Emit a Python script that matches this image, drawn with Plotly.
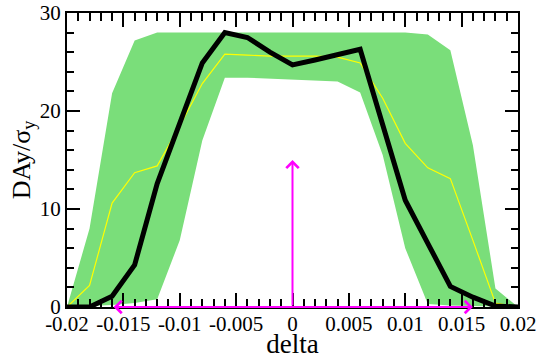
import plotly.graph_objects as go

# ---- data ----
delta = [-0.02, -0.018, -0.016, -0.014, -0.012, -0.010, -0.008, -0.006, -0.004, -0.002,
         0.0, 0.002, 0.004, 0.006, 0.008, 0.010, 0.012, 0.014, 0.016, 0.018, 0.02]
black_vals = [0, 0, 1.1, 4.3, 12.6, 18.7, 24.9, 28.0, 27.5, 26.0,
              24.7, 25.2, 25.8, 26.3, 18.6, 10.9, 6.5, 2.1, 1.0, 0.1, 0]
yellow_vals = [0, 2.2, 10.6, 13.7, 14.4, 18.5, 22.8, 25.8, 25.7, 25.6,
               25.6, 25.6, 25.5, 24.9, 21.3, 16.7, 14.2, 13.1, 6.8, 0.4, 0]
band_upper = [0, 8.0, 21.8, 27.2, 28.0, 28.0, 28.0, 28.0, 28.0, 28.0,
              28.0, 28.0, 28.0, 28.0, 28.0, 28.0, 27.8, 26.2, 16.5, 1.9, 0]
band_lower = [0, 0.1, 0.2, 0.4, 0.8, 6.8, 17.0, 23.4, 23.4, 23.3,
              23.2, 23.1, 23.0, 21.9, 15.5, 6.0, 0.3, 0.15, 0.1, 0.05, 0]

# arrows
vert_arrow_x = 0.0
vert_arrow_y = [0, 15.0]
horiz_arrow_x = [-0.016, 0.016]
horiz_arrow_y = 0.0

x_tick_vals = [-0.02, -0.015, -0.01, -0.005, 0, 0.005, 0.01, 0.015, 0.02]
x_tick_text = ["-0.02", "-0.015", "-0.01", "-0.005", "0", "0.005", "0.01", "0.015", "0.02"]
y_tick_vals = [0, 10, 20, 30]
y_tick_text = ["0", "10", "20", "30"]

SERIF = "Liberation Serif"

fig = go.Figure()

# green band as closed polygon
fig.add_trace(go.Scatter(
    x=delta + delta[::-1],
    y=band_upper + band_lower[::-1],
    fill="toself", fillcolor="#7ade7a",
    line=dict(width=0, color="#7ade7a"),
    mode="lines", hoverinfo="skip", showlegend=False,
))
fig.add_trace(go.Scatter(
    x=delta, y=yellow_vals, mode="lines",
    line=dict(color="#ffff00", width=1.2), showlegend=False,
))
fig.add_trace(go.Scatter(
    x=delta, y=black_vals, mode="lines",
    line=dict(color="black", width=5), showlegend=False,
))

# magenta arrows
fig.add_annotation(
    x=vert_arrow_x, y=vert_arrow_y[1], ax=vert_arrow_x, ay=vert_arrow_y[0],
    xref="x", yref="y", axref="x", ayref="y",
    showarrow=True, arrowhead=4, arrowsize=1.2, arrowwidth=2, arrowcolor="#ff00ff", text="",
)
fig.add_annotation(
    x=horiz_arrow_x[1], y=horiz_arrow_y, ax=horiz_arrow_x[0], ay=horiz_arrow_y,
    xref="x", yref="y", axref="x", ayref="y",
    showarrow=True, arrowhead=4, startarrowhead=4, arrowside="end+start",
    arrowsize=1.2, startarrowsize=1.2, arrowwidth=2, arrowcolor="#ff00ff", text="",
)

fig.update_xaxes(
    range=[-0.02, 0.02],
    tickmode="array", tickvals=x_tick_vals, ticktext=x_tick_text,
    ticks="inside", ticklen=14, tickwidth=1.5, tickcolor="black",
    minor=dict(tickmode="linear", tick0=-0.02, dtick=0.001, ticks="inside",
               ticklen=8, tickwidth=1.5, tickcolor="black"),
    showline=True, linecolor="black", linewidth=2, mirror="ticks",
    showgrid=False, zeroline=False, ticklabelstandoff=-3,
    tickfont=dict(family=SERIF, size=21, color="black"),
    title=dict(text="delta", font=dict(family=SERIF, size=27, color="black"), standoff=0),
)
fig.update_yaxes(
    range=[0, 30],
    tickmode="array", tickvals=y_tick_vals, ticktext=y_tick_text,
    ticks="inside", ticklen=13, tickwidth=1.5, tickcolor="black",
    minor=dict(tickmode="linear", tick0=0, dtick=2, ticks="inside",
               ticklen=7, tickwidth=1.5, tickcolor="black"),
    showline=True, linecolor="black", linewidth=2, mirror="ticks",
    showgrid=False, zeroline=False,
    tickfont=dict(family=SERIF, size=21, color="black"),
    title=dict(text="DAy/σ<sub>y</sub>", font=dict(family=SERIF, size=26, color="black"), standoff=2),
)

fig.update_layout(
    width=540, height=359,
    font=dict(family=SERIF, size=21, color="black"),
    margin=dict(l=67, r=22, t=13, b=52, autoexpand=False),
    paper_bgcolor="white", plot_bgcolor="white",
    showlegend=False,
)

fig.write_html("out.html")
